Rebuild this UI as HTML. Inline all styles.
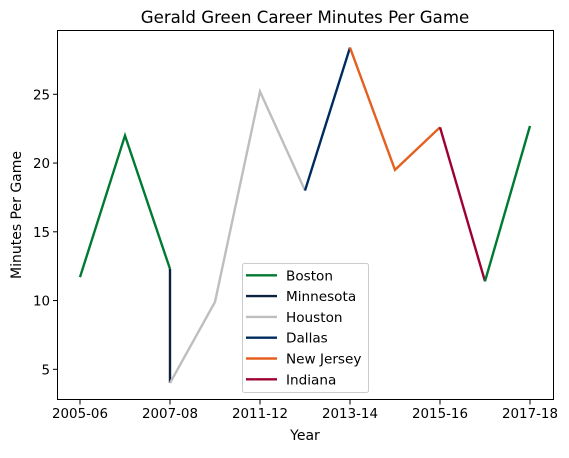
<!DOCTYPE html>
<html><head><meta charset="utf-8"><style>
body{margin:0;background:#fff}
svg text{font-family:"DejaVu Sans","Liberation Sans",sans-serif;fill:#000}
</style></head><body>
<svg id="chart" width="569" height="453" viewBox="0 0 569 453" xmlns="http://www.w3.org/2000/svg">
<rect width="569" height="453" fill="#fff"/>
<text x="305" y="23" font-size="16.6" text-anchor="middle">Gerald Green Career Minutes Per Game</text>
<g id="marks"></g>
<rect x="57.5" y="30.5" width="496" height="369" fill="none" stroke="#000" stroke-width="1"/>
<g id="xticks"></g><g id="yticks"></g>
<text x="305" y="440" font-size="14" text-anchor="middle">Year</text>
<text transform="translate(21,215) rotate(-90)" font-size="14" text-anchor="middle">Minutes Per Game</text>
<g id="legend"></g>
</svg>
<script>
const categories=["2005-06","2006-07","2007-08","2009-10","2011-12","2012-13","2013-14","2014-15","2015-16","2016-17","2017-18"];
const xTickLabels=["2005-06","2007-08","2011-12","2013-14","2015-16","2017-18"];
const yTickValues=[5,10,15,20,25];
const seriesNames=["Boston","Minnesota","Houston","Dallas","New Jersey","Indiana"];
const seriesColors=["#007A33","#0C2340","#BEBEBE","#002B5E","#E56020","#9E0031"];
const bostonA={x:["2005-06","2006-07","2007-08"],y:[11.7,22.0,12.3]};
const minnesota={x:["2007-08","2007-08"],y:[12.3,4.0]};
const houston={x:["2007-08","2009-10","2011-12","2012-13"],y:[4.0,9.9,25.2,18.0]};
const dallas={x:["2012-13","2013-14"],y:[18.0,28.4]};
const newJersey={x:["2013-14","2014-15","2015-16"],y:[28.4,19.5,22.6]};
const indiana={x:["2015-16","2016-17"],y:[22.6,11.4]};
const bostonB={x:["2016-17","2017-18"],y:[11.4,22.7]};

const NS="http://www.w3.org/2000/svg";
function xs(c){return 80+categories.indexOf(c)*45;}
function ys(v){return 369.3-(v-5)*13.75;}
function mk(t,a,p){const e=document.createElementNS(NS,t);for(const k in a)e.setAttribute(k,a[k]);p.appendChild(e);return e;}
const marks=document.getElementById('marks');
const series=[[bostonA,0,"boston-line-1"],[minnesota,1,"minnesota-line"],[houston,2,"houston-line"],[dallas,3,"dallas-line"],[newJersey,4,"new-jersey-line"],[indiana,5,"indiana-line"],[bostonB,0,"boston-line-2"]];
series.forEach(([s,ci,nm])=>{
  const pts=s.x.map((c,i)=>xs(c)+","+ys(s.y[i])).join(" ");
  const p=mk('polyline',{points:pts,fill:"none",stroke:seriesColors[ci],"stroke-width":2.4},marks);
  
  
});
const xt=document.getElementById('xticks');
xTickLabels.forEach(l=>{
  const x=xs(l);
  const t=mk('line',{x1:x,x2:x,y1:400,y2:404.5,stroke:"#000"},xt);
  
  
  const tx=mk('text',{x:x,y:418,"font-size":13.4,"text-anchor":"middle"},xt);tx.textContent=l;
  
  
});
const yt=document.getElementById('yticks');
yTickValues.forEach(v=>{
  const y=ys(v);
  const t=mk('line',{x1:53,x2:57.5,y1:y,y2:y,stroke:"#000"},yt);
  
  
  const tx=mk('text',{x:50,y:y+5,"font-size":13.4,"text-anchor":"end"},yt);tx.textContent=v;
  
  
});
const lg=document.getElementById('legend');


mk('rect',{x:242.5,y:263.5,width:126,height:129,rx:2,fill:"#fff","fill-opacity":0.8,stroke:"#ccc"},lg);
seriesNames.forEach((n,i)=>{
  const y=275.3+i*20.8;
  const g=mk('g',{},lg);
  
  
  mk('line',{x1:246,x2:277,y1:y,y2:y,stroke:seriesColors[i],"stroke-width":2.4},g);
  const tx=mk('text',{x:286,y:y+5,"font-size":13.6},g);tx.textContent=n;
});
</script>
</body></html>
